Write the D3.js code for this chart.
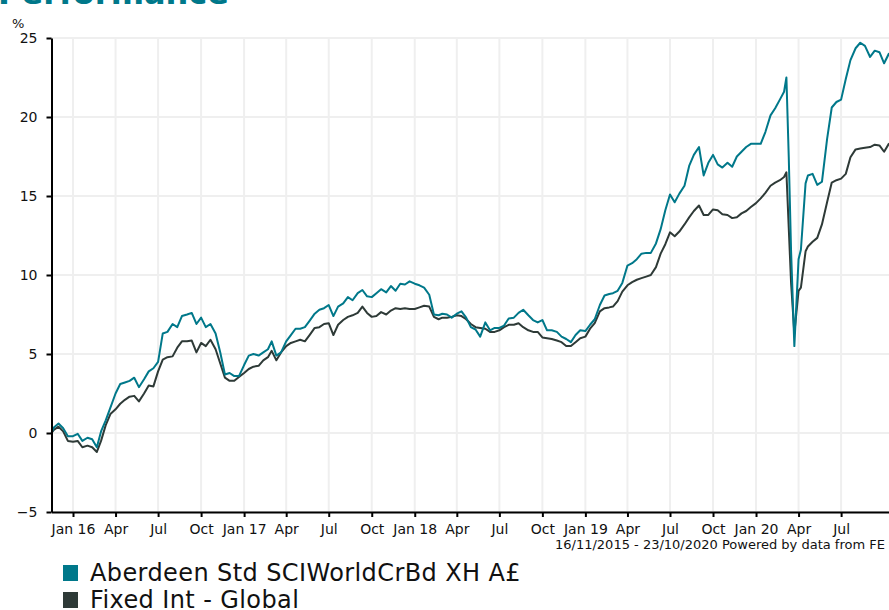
<!DOCTYPE html>
<html><head><meta charset="utf-8">
<script src="https://cdn.jsdelivr.net/npm/d3@7"></script>
<style>html,body{margin:0;padding:0;overflow:hidden;background:#fff;}</style>
</head><body><div id="chart"></div>
<script>
const seriesNames = ["Aberdeen Std SCIWorldCrBd XH A£", "Fixed Int - Global"];
const seriesColors = ["#00788a", "#2e3a37"];
const titleText = "Performance";
const footerText = "16/11/2015 - 23/10/2020 Powered by data from FE fundinfo";
const yTicks = [-5, 0, 5, 10, 15, 20, 25];
const xTickDates = ["2016-01-01","2016-04-01","2016-07-01","2016-10-01","2017-01-01","2017-04-01","2017-07-01","2017-10-01","2018-01-01","2018-04-01","2018-07-01","2018-10-01","2019-01-01","2019-04-01","2019-07-01","2019-10-01","2020-01-01","2020-04-01","2020-07-01"];
const xTickLabels = ["Jan 16","Apr","Jul","Oct","Jan 17","Apr","Jul","Oct","Jan 18","Apr","Jul","Oct","Jan 19","Apr","Jul","Oct","Jan 20","Apr","Jul"];

// sample dates: 1st, 11th, 21st of each month (plus a few extra around March 2020)
const tri = (y) => { const out = []; for (let m = 1; m <= 12; m++) for (const d of [1, 11, 21]) out.push(`${y}-${String(m).padStart(2,"0")}-${String(d).padStart(2,"0")}`); return out; };
const dates = [].concat(
  ["2015-11-16","2015-11-21","2015-12-01","2015-12-11","2015-12-21"],
  tri(2016), tri(2017), tri(2018), tri(2019),
  ["2020-01-01","2020-01-11","2020-01-21","2020-02-01","2020-02-11","2020-02-21","2020-03-01","2020-03-06","2020-03-11","2020-03-16","2020-03-23","2020-04-01","2020-04-06","2020-04-16","2020-04-21","2020-05-01","2020-05-11","2020-05-21","2020-06-01","2020-06-11","2020-06-21","2020-07-01","2020-07-11","2020-07-21","2020-08-01","2020-08-11","2020-08-21","2020-09-01","2020-09-11","2020-09-21","2020-10-01","2020-10-11","2020-10-21","2020-10-23"]
);

const fundValues = [
  0.0, 0.35, 0.6, 0.3, -0.2,
  // 2016
  -0.2, -0.05, -0.5,  -0.3, -0.4, -0.9,  0.1, 0.8, 1.6,  2.5, 3.1, 3.2,
  3.3, 3.5, 2.9,  3.4, 3.9, 4.1,  4.5, 6.3, 6.4,  6.9, 6.7, 7.4,
  7.5, 7.6, 6.9,  7.3, 6.7, 6.9,  6.3, 5.1, 3.7,  3.8, 3.6, 3.6,
  // 2017
  4.3, 4.9, 5.0,  4.9, 5.1, 5.3,  5.8, 4.9, 5.1,  5.8, 6.2, 6.6,
  6.6, 6.7, 7.1,  7.55, 7.8, 7.9,  8.1, 7.4, 8.0,  8.2, 8.6, 8.4,
  8.85, 9.05, 8.65,  8.6, 8.85, 9.1,  8.9, 9.3, 9.0,  9.45, 9.4, 9.6,
  // 2018
  9.45, 9.35, 9.2,  8.75, 7.5, 7.45,  7.55, 7.5, 7.3,  7.55, 7.7, 7.3,
  6.7, 6.55, 6.1,  7.0, 6.5, 6.65,  6.65, 6.8, 7.25,  7.3, 7.6, 7.8,
  7.45, 7.15, 7.0,  7.15, 6.5, 6.5,  6.4, 6.1, 5.95,  5.75, 6.2, 6.5,
  // 2019
  6.45, 6.85, 7.2,  8.1, 8.7, 8.8,  8.85, 9.0, 9.5,  10.6, 10.75, 11.0,
  11.35, 11.4, 11.4,  12.0, 12.9, 14.1,  15.1, 14.6, 15.15,  15.65, 16.9, 17.6,
  18.1, 16.3, 17.1,  17.6, 17.0, 16.8,  17.1, 16.85, 17.5,  17.8, 18.1, 18.3,
  // 2020
  18.3, 18.3, 19.05,  20.1, 20.55, 21.1,  21.6, 22.5, 17.5, 11.5, 5.5,  11.0, 11.6, 15.8, 16.3,
  16.4, 15.7, 15.9,  18.6, 20.6, 20.95,  21.1, 22.4, 23.6,  24.35, 24.7, 24.5,
  23.8, 24.2, 24.1,  23.4, 24.0, 23.9, 24.0
];

const sectorValues = [
  0.0, 0.2, 0.4, 0.1, -0.5,
  // 2016
  -0.55, -0.5, -0.9,  -0.8, -0.9, -1.2,  -0.5, 0.5, 1.2,  1.5, 1.85, 2.1,
  2.3, 2.35, 2.0,  2.5, 3.0, 2.95,  3.9, 4.65, 4.8,  4.85, 5.4, 5.8,
  5.8, 5.85, 5.1,  5.7, 5.5, 5.9,  5.3, 4.4, 3.5,  3.3, 3.3, 3.55,
  // 2017
  3.8, 4.05, 4.2,  4.25, 4.6, 4.8,  5.2, 4.6, 5.1,  5.5, 5.7, 5.8,
  5.9, 5.8, 6.2,  6.65, 6.7, 6.9,  6.95, 6.2, 6.85,  7.15, 7.35, 7.45,
  7.6, 8.0, 7.6,  7.35, 7.4, 7.65,  7.5, 7.75, 7.9,  7.85, 7.9, 7.85,
  // 2018
  7.85, 7.95, 8.05,  8.0, 7.35, 7.2,  7.3, 7.3, 7.35,  7.45, 7.4, 7.2,
  6.9, 6.7, 6.65,  6.6, 6.4, 6.4,  6.5, 6.7, 6.85,  6.85, 6.95, 6.7,
  6.5, 6.4, 6.4,  6.05, 6.0, 5.95,  5.85, 5.75, 5.5,  5.5, 5.75, 6.0,
  // 2019
  6.1, 6.6, 6.95,  7.7, 7.9, 7.95,  8.0, 8.35, 8.95,  9.35, 9.55, 9.7,
  9.8, 9.9, 10.0,  10.5, 11.35, 11.95,  12.7, 12.45, 12.75,  13.2, 13.65, 14.05,
  14.4, 13.8, 13.8,  14.15, 14.1, 13.85,  13.8, 13.6, 13.65,  13.9, 14.05, 14.3,
  // 2020
  14.55, 14.85, 15.2,  15.65, 15.85, 16.0,  16.2, 16.5, 13.0, 9.5, 6.3,  9.0, 9.2, 11.5, 11.8,
  12.1, 12.35, 13.2,  14.6, 15.85, 16.0,  16.1, 16.4, 17.45,  17.95, 18.0, 18.05,
  18.1, 18.25, 18.2,  17.8, 18.3, 18.4, 18.4
];

const parse = d3.timeParse("%Y-%m-%d");
const W = 900, H = 610;
const FONT = "'DejaVu Sans', Verdana, sans-serif";
const svg = d3.select("#chart").append("svg").attr("width", W).attr("height", H)
  .style("font-family", FONT);

const x = d3.scaleTime().domain([parse("2015-11-16"), parse("2020-10-23")]).range([51.5, 894.4]);
const y = d3.scaleLinear().domain([-5, 25]).range([512, 38]);

// title (mostly cut off at top)
svg.append("text").attr("x", -2).attr("y", 4).attr("fill", seriesColors[0])
  .style("font-weight", "bold").style("font-size", "32px").text(titleText);

// grid
const grid = svg.append("g").attr("stroke", "#efefef").attr("stroke-width", 2);
grid.selectAll("line.h").data(yTicks).join("line").attr("class", "h")
  .attr("x1", x.range()[0]).attr("x2", x.range()[1]).attr("y1", d => y(d)).attr("y2", d => y(d));
grid.selectAll("line.v").data(xTickDates).join("line").attr("class", "v")
  .attr("x1", d => x(parse(d))).attr("x2", d => x(parse(d))).attr("y1", y(25)).attr("y2", y(-5));

// lines
const seriesList = [fundValues, sectorValues];
const n = Math.min(dates.length, fundValues.length, sectorValues.length);
const line = d3.line().x(d => x(d[0])).y(d => y(d[1]));
[1, 0].forEach(si => {
  const pts = [];
  for (let i = 0; i < n; i++) pts.push([parse(dates[i]), seriesList[si][i]]);
  svg.append("path").datum(pts).attr("fill", "none").attr("stroke", seriesColors[si])
    .attr("stroke-width", 2).attr("stroke-linejoin", "round").attr("d", line);
});

// axes
const yAxis = svg.append("g").attr("transform", `translate(${x.range()[0]},0)`)
  .call(d3.axisLeft(y).tickValues(yTicks).tickSize(5).tickSizeOuter(0).tickPadding(9));
const xAxis = svg.append("g").attr("transform", `translate(0,${y(-5)})`)
  .call(d3.axisBottom(x).tickValues(xTickDates.map(parse)).tickFormat((d, i) => xTickLabels[i]).tickSize(5).tickSizeOuter(0).tickPadding(7));
[yAxis, xAxis].forEach(a => {
  a.select(".domain").attr("stroke", "#000").attr("stroke-width", 2);
  a.selectAll(".tick line").attr("stroke", "#000").attr("stroke-width", 2);
  a.selectAll(".tick text").attr("fill", "#111").style("font-size", "14px").style("font-family", FONT);
});

svg.append("text").attr("x", 12).attr("y", 28).style("font-size", "13px").attr("fill", "#111").text("%");

svg.append("text").attr("x", 555).attr("y", 549).style("font-size", "13px")
  .attr("fill", "#111").text(footerText);

// legend
const leg = svg.append("g");
seriesNames.forEach((name, i) => {
  leg.append("rect").attr("x", 63).attr("y", 565 + i * 27).attr("width", 15).attr("height", 16).attr("fill", seriesColors[i]);
  leg.append("text").attr("x", 90).attr("y", 581 + i * 27).style("font-size", "24px").style("letter-spacing", "0.4px")
    .attr("fill", "#111").text(name);
});
</script>
</body></html>
